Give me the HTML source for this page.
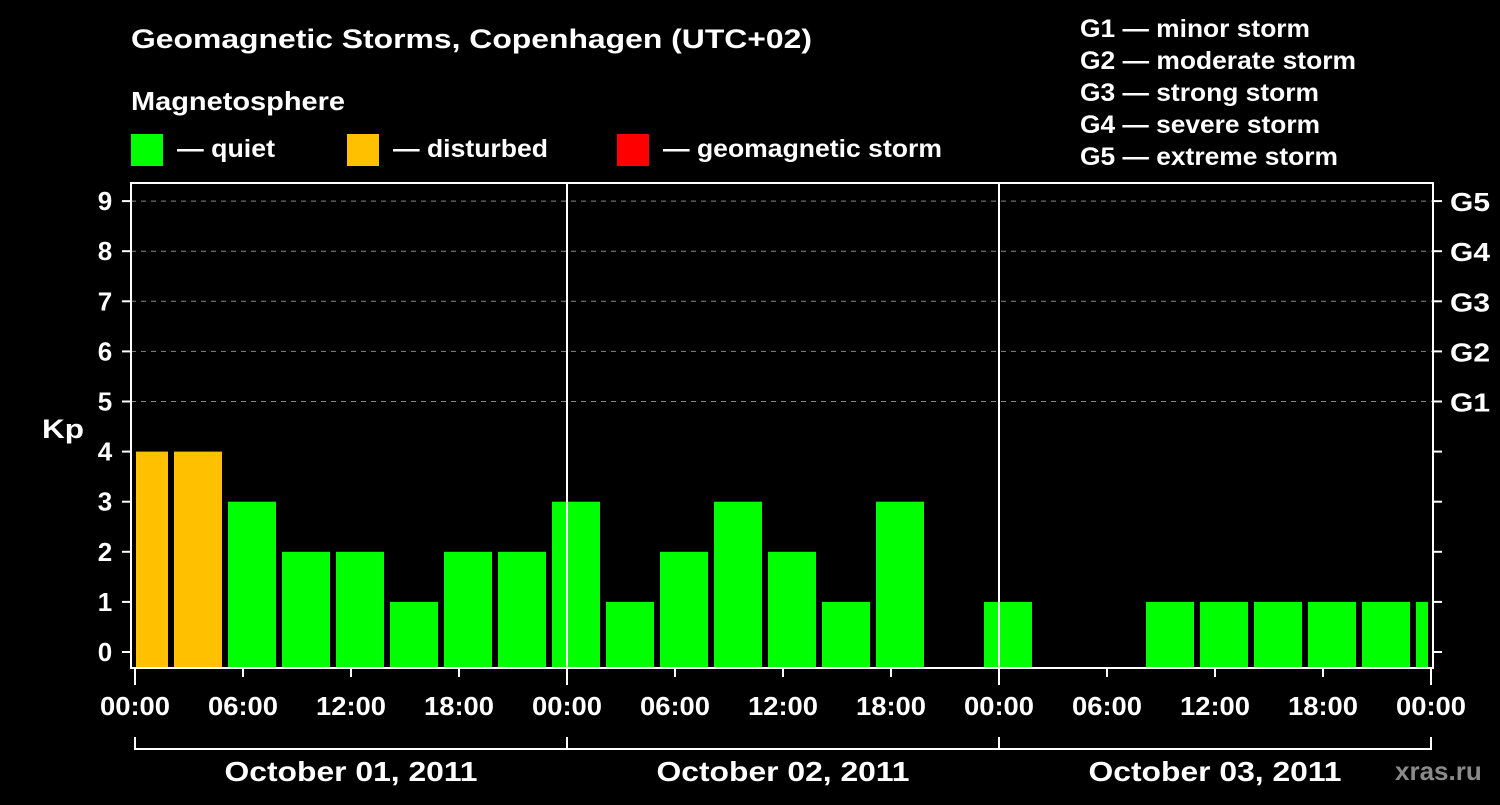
<!DOCTYPE html>
<html><head><meta charset="utf-8"><style>
body{margin:0;background:#000;width:1500px;height:800px;overflow:hidden}
svg text{font-family:"Liberation Sans",Arial,sans-serif;font-weight:bold;fill:#fff}
</style></head><body>
<svg id="chart" width="1500" height="800" xmlns="http://www.w3.org/2000/svg">
<rect width="1500" height="800" fill="#000"/>
<text x="131" y="48" font-size="27" textLength="681" lengthAdjust="spacingAndGlyphs">Geomagnetic Storms, Copenhagen (UTC+02)</text>
<text x="131" y="110" font-size="26" textLength="214" lengthAdjust="spacingAndGlyphs">Magnetosphere</text>
<g><rect x="131" y="134" width="32" height="32" fill="#00ff00"/><text x="177" y="157" font-size="25" textLength="98" lengthAdjust="spacingAndGlyphs">— quiet</text></g>
<g><rect x="347" y="134" width="32" height="32" fill="#ffc000"/><text x="393" y="157" font-size="25" textLength="155" lengthAdjust="spacingAndGlyphs">— disturbed</text></g>
<g><rect x="617" y="134" width="32" height="32" fill="#ff0000"/><text x="663" y="157" font-size="25" textLength="279" lengthAdjust="spacingAndGlyphs">— geomagnetic storm</text></g>
<g font-size="25">
<text x="1080" y="37" textLength="230" lengthAdjust="spacingAndGlyphs">G1 — minor storm</text>
<text x="1080" y="69" textLength="276" lengthAdjust="spacingAndGlyphs">G2 — moderate storm</text>
<text x="1080" y="101" textLength="239" lengthAdjust="spacingAndGlyphs">G3 — strong storm</text>
<text x="1080" y="133" textLength="240" lengthAdjust="spacingAndGlyphs">G4 — severe storm</text>
<text x="1080" y="165" textLength="258" lengthAdjust="spacingAndGlyphs">G5 — extreme storm</text>
</g>
<text x="42" y="438" font-size="27" textLength="42" lengthAdjust="spacingAndGlyphs">Kp</text>
<g id="grid"></g><g id="bars"></g><g id="axes"></g>
<text x="1395" y="780" font-size="26" style="fill:#8a8a8a">xras.ru</text>
</svg>
<script>
const kpValues=[4,4,3,2,2,1,2,2,3,1,2,3,2,1,3,0,1,0,0,1,1,1,1,1,1];
const dayLabels=["October 01, 2011","October 02, 2011","October 03, 2011"];
const timeTicks=["00:00","06:00","12:00","18:00"];
const stormLabels=["G1","G2","G3","G4","G5"];
const NS="http://www.w3.org/2000/svg";
const X0=135,PXH=18,L=131,R=1433,T=183,B=668;
const xH=h=>X0+h*PXH;
const yK=k=>652-k*50.1;
function el(t,a,p){const e=document.createElementNS(NS,t);for(const k in a)e.setAttribute(k,a[k]);document.getElementById(p).appendChild(e);return e;}
for(let k=5;k<=9;k++){const g=el('line',{x1:L,x2:R,y1:yK(k),y2:yK(k),stroke:'#888','stroke-dasharray':'5,5','stroke-width':1},'grid');

}
kpValues.forEach((v,i)=>{if(v<=0)return;const c=xH(0.5+3*i);let x1=Math.max(c-24,136),x2=Math.min(c+24,1428);
const col=v>=5?'#ff0000':(v>=4?'#ffc000':'#00ff00');
const r=el('rect',{x:x1,y:yK(v),width:x2-x1,height:B-1-yK(v),fill:col},'bars');

});
const f=el('rect',{x:L,y:T,width:R-L,height:B-T,fill:'none',stroke:'#fff','stroke-width':2},'axes');


for(let d=1;d<3;d++){const x=xH(24*d);el('line',{x1:x,x2:x,y1:T,y2:B,stroke:'#fff','stroke-width':2},'axes');}
for(let k=0;k<=9;k++){const y=yK(k);el('line',{x1:122,x2:L,y1:y,y2:y,stroke:'#fff','stroke-width':2},'axes');el('line',{x1:R,x2:1442,y1:y,y2:y,stroke:'#fff','stroke-width':2},'axes');
const t=el('text',{x:105,y:y+9,'font-size':26,'text-anchor':'middle'},'axes');t.textContent=k;


if(k>=5){const s=el('text',{x:1450,y:y+10,'font-size':26,textLength:40,lengthAdjust:'spacingAndGlyphs'},'axes');s.textContent=stormLabels[k-5];

}}
for(let h=0;h<=72;h+=6){const x=xH(h);const major=h%24===0;el('line',{x1:x,x2:x,y1:B,y2:major?685:677,stroke:'#fff','stroke-width':2},'axes');
const t=el('text',{x:x,y:715,'font-size':26,'text-anchor':'middle',textLength:70,lengthAdjust:'spacingAndGlyphs'},'axes');t.textContent=timeTicks[(h/6)%4];

}
el('line',{x1:xH(0),x2:xH(72),y1:749,y2:749,stroke:'#fff','stroke-width':2},'axes');
for(let d=0;d<=3;d++){const x=xH(24*d);el('line',{x1:x,x2:x,y1:737,y2:750,stroke:'#fff','stroke-width':2},'axes');}
dayLabels.forEach((s,d)=>{const t=el('text',{x:xH(24*d+12),y:781,'font-size':28,'text-anchor':'middle',textLength:253,lengthAdjust:'spacingAndGlyphs'},'axes');t.textContent=s;

});
</script>
</body></html>
